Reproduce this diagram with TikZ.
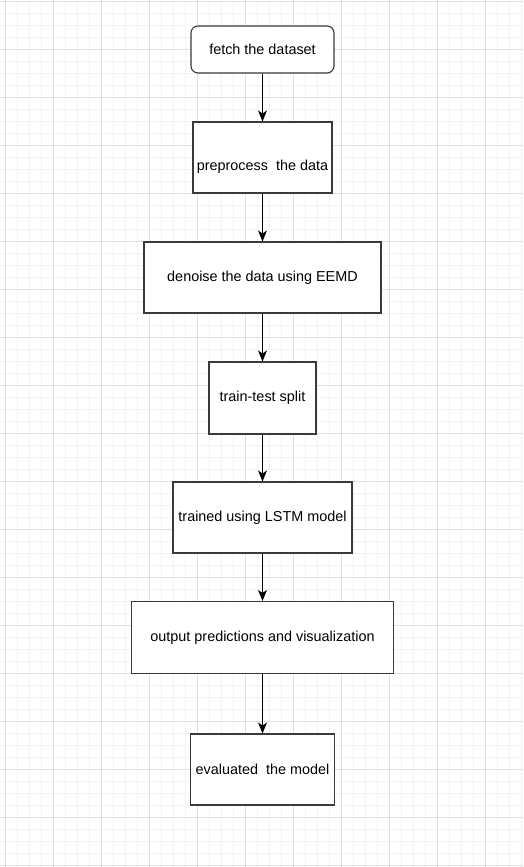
\documentclass[tikz,border=0pt]{standalone}
\usepackage{fontspec}
\setmainfont{Liberation Sans}
\usetikzlibrary{arrows.meta}
\definecolor{gridmajor}{HTML}{E0E0E0}
\definecolor{gridminor}{HTML}{F3F3F3}
\definecolor{boxline}{HTML}{3A3A3A}
\tikzset{boxfont/.style={font=\fontsize{14.4pt}{17pt}\selectfont}}
\begin{document}
\begin{tikzpicture}[x=1pt,y=-1pt,
  stepbox/.style={draw=boxline,line width=1.1pt,fill=white,inner sep=0pt,boxfont,align=center},
  flow/.style={draw=black,line width=1.1pt,-{Stealth[length=11pt,width=9pt,inset=3pt]}}]
\useasboundingbox (0,0) rectangle (523,867);
\fill[white] (0,0) rectangle (523,867);
% minor grid
\foreach \x in {5,17,...,523} \draw[gridminor,line width=0.8pt] (\x,0) -- (\x,867);
\foreach \y in {1,13,...,867} \draw[gridminor,line width=0.8pt] (0,\y) -- (523,\y);
% major grid
\foreach \x in {5,53,...,523} \draw[gridmajor,line width=0.9pt] (\x,0) -- (\x,867);
\foreach \y in {1,49,...,867} \draw[gridmajor,line width=0.9pt] (0,\y) -- (523,\y);
% boxes
\node[stepbox,rounded corners=7pt,minimum width=143pt,minimum height=47pt] (fetch) at (262.5,49.5) {fetch the dataset};
\node[stepbox,minimum width=139pt,minimum height=71pt,label={[boxfont,yshift=-9.5pt]center:preprocess\ \ the data}] (prep) at (262.5,157.5) {};
\node[stepbox,minimum width=237pt,minimum height=71pt] (denoise) at (262.5,277.5) {denoise the data using EEMD};
\node[stepbox,minimum width=107pt,minimum height=72pt] (split) at (262.5,398) {train-test split};
\node[stepbox,minimum width=179pt,minimum height=71pt] (train) at (262.5,517.5) {trained using LSTM model};
\node[stepbox,minimum width=262pt,minimum height=72pt] (output) at (262.5,637.5) {output predictions and visualization};
\node[stepbox,minimum width=144pt,minimum height=71pt] (eval) at (262.5,769.5) {evaluated\ \ the model};
% connectors
\draw[flow] (fetch) -- (prep);
\draw[flow] (prep) -- (denoise);
\draw[flow] (denoise) -- (split);
\draw[flow] (split) -- (train);
\draw[flow] (train) -- (output);
\draw[flow] (output) -- (eval);
\end{tikzpicture}
\end{document}
